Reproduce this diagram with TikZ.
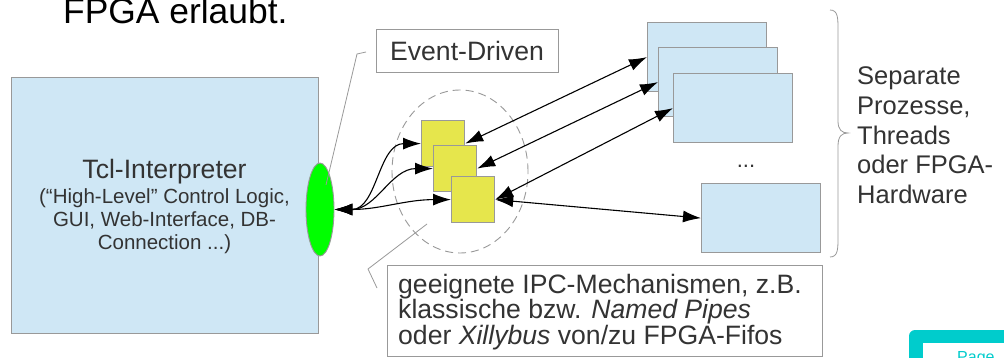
\documentclass[tikz,border=0pt]{standalone}
\usepackage{fontspec}
\setmainfont{Liberation Sans}
\usetikzlibrary{arrows.meta,shapes.geometric,calc}
\definecolor{boxblue}{HTML}{CFE7F5}
\definecolor{boxyellow}{HTML}{E6E64C}
\definecolor{edgegray}{HTML}{999999}
\definecolor{txt}{HTML}{333333}
\definecolor{pageteal}{HTML}{00CCCC}
\newcommand{\fs}[1]{\fontsize{#1}{#1}\selectfont}
\begin{document}
\begin{tikzpicture}[x=1pt,y=-1pt,
  bluebox/.style={draw=edgegray, line width=1.2pt, fill=boxblue, minimum width=119pt, minimum height=69pt, inner sep=0pt, anchor=north west},
  yellowbox/.style={draw=edgegray, line width=1.2pt, fill=boxyellow, minimum width=43pt, minimum height=46pt, inner sep=0pt, anchor=north west},
  label/.style={anchor=base west, inner sep=0pt, text=txt},
  clabel/.style={anchor=base, inner sep=0pt, text=txt},
  conn/.style={line width=1.1pt, black, {Latex[length=18pt,width=12pt]}-{Latex[length=18pt,width=12pt]}},
  callout/.style={draw=edgegray, line width=0.8pt}
]
\clip (0,0) rectangle (1004,358);
\fill[white] (0,0) rectangle (1004,358);

% title
\node[anchor=base west, inner sep=0pt, font=\fs{35.4}] (title) at (63,24) {FPGA erlaubt.};

% Tcl interpreter
\node[bluebox, minimum width=307pt, minimum height=256pt] (tcl) at (11,77) {};
\node[clabel, font=\fs{26.6}] (tcl1) at (164.5,179) {Tcl-Interpreter};
\node[clabel, font=\fs{20.5}] (tcl2) at (164.5,204) {(“High-Level” Control Logic,};
\node[clabel, font=\fs{20.5}] (tcl3) at (164.5,227) {GUI, Web-Interface, DB-};
\node[clabel, font=\fs{20.5}] (tcl4) at (164.5,250) {Connection ...)};

% group ellipse
\node[draw=edgegray, dash pattern=on 8pt off 5pt, ellipse, minimum width=136pt, minimum height=163pt, inner sep=0pt, line width=0.9pt] (grp) at (460,171.5) {};

% green port
\node[ellipse, draw=edgegray, line width=0.9pt, fill=green, minimum width=28pt, minimum height=93pt, inner sep=0pt] (ell) at (320,209.5) {};

% yellow handlers
\node[yellowbox] (sq1) at (421,120) {};
\node[yellowbox] (sq2) at (433,145) {};
\node[yellowbox] (sq3) at (451,176) {};

% blue processes
\node[bluebox] (b1) at (647,22) {};
\node[bluebox] (b2) at (658,47) {};
\node[bluebox] (b3) at (673,73) {};
\node[bluebox] (b4) at (701,183) {};
\node[clabel, font=\fs{22}] (dots) at (746,168) {...};

% brace
\draw[draw=edgegray, line width=0.8pt] (830,10) .. controls (838,10) and (838,18) .. (838,30) -- (838,121) .. controls (838,130) and (842,133) .. (848,133) .. controls (842,133) and (838,136) .. (838,146) -- (838,237) .. controls (838,249) and (838,257) .. (830,257);

% right text
\node[label, font=\fs{25.5}] (r1) at (857,85) {Separate};
\node[label, font=\fs{25.5}] (r2) at (857,115) {Prozesse,};
\node[label, font=\fs{25.5}] (r3) at (857,144.5) {Threads};
\node[label, font=\fs{25.5}] (r4) at (857,174) {oder FPGA-};
\node[label, font=\fs{25.5}] (r5) at (857,204) {Hardware};

% Event-Driven
\node[draw=edgegray, line width=0.9pt, fill=white, minimum width=182pt, minimum height=43pt, inner sep=0pt, text=txt, font=\fs{26.6}] (ev) at (467,50.5) {Event-Driven};

% bottom box
\node[draw=edgegray, line width=0.9pt, fill=white, minimum width=435pt, minimum height=91pt, inner sep=0pt, anchor=north west] (ipc) at (387,265) {};
\node[label, font=\fs{26.6}] (ipc1) at (398,293) {geeignete IPC-Mechanismen, z.B.};
\node[label, font=\fs{26.6}] (ipc2) at (398,318.5) {klassische bzw. \textit{Named Pipes}};
\node[label, font=\fs{26.6}] (ipc3) at (398,344) {oder \textit{Xillybus} von/zu FPGA-Fifos};

% connectors
\draw[conn] (ell.east) to[out=0,in=180] (sq1.west);
\draw[conn] (ell.east) to[out=0,in=180] (sq2.west);
\draw[conn] (ell.east) to[out=0,in=180] (sq3.west);
\draw[conn] (sq1.east) -- (b1.west);
\draw[conn] (sq2.east) -- (b2.west);
\draw[conn] (sq3.east) -- (b3.west);
\draw[conn] (sq3.east) -- (b4.west);

% callouts
\coordinate (evA) at (366,52);
\coordinate (evB) at (357,54);
\coordinate (evC) at (326,185);
\draw[callout] (evA) -- (evB) -- (evC);
\coordinate (ipA) at (427,224);
\coordinate (ipB) at (368,269);
\coordinate (ipC) at (377,288);
\draw[callout] (ipA) -- (ipB) -- (ipC);

% page footer fragment
\fill[pageteal, rounded corners=6pt] (909,330) rectangle (1040,400);
\fill[white] (923,343) rectangle (1040,400);
\node[anchor=base west, inner sep=0pt, text=pageteal, font=\fs{16}] (page) at (957,362) {Page};
\end{tikzpicture}
\end{document}
